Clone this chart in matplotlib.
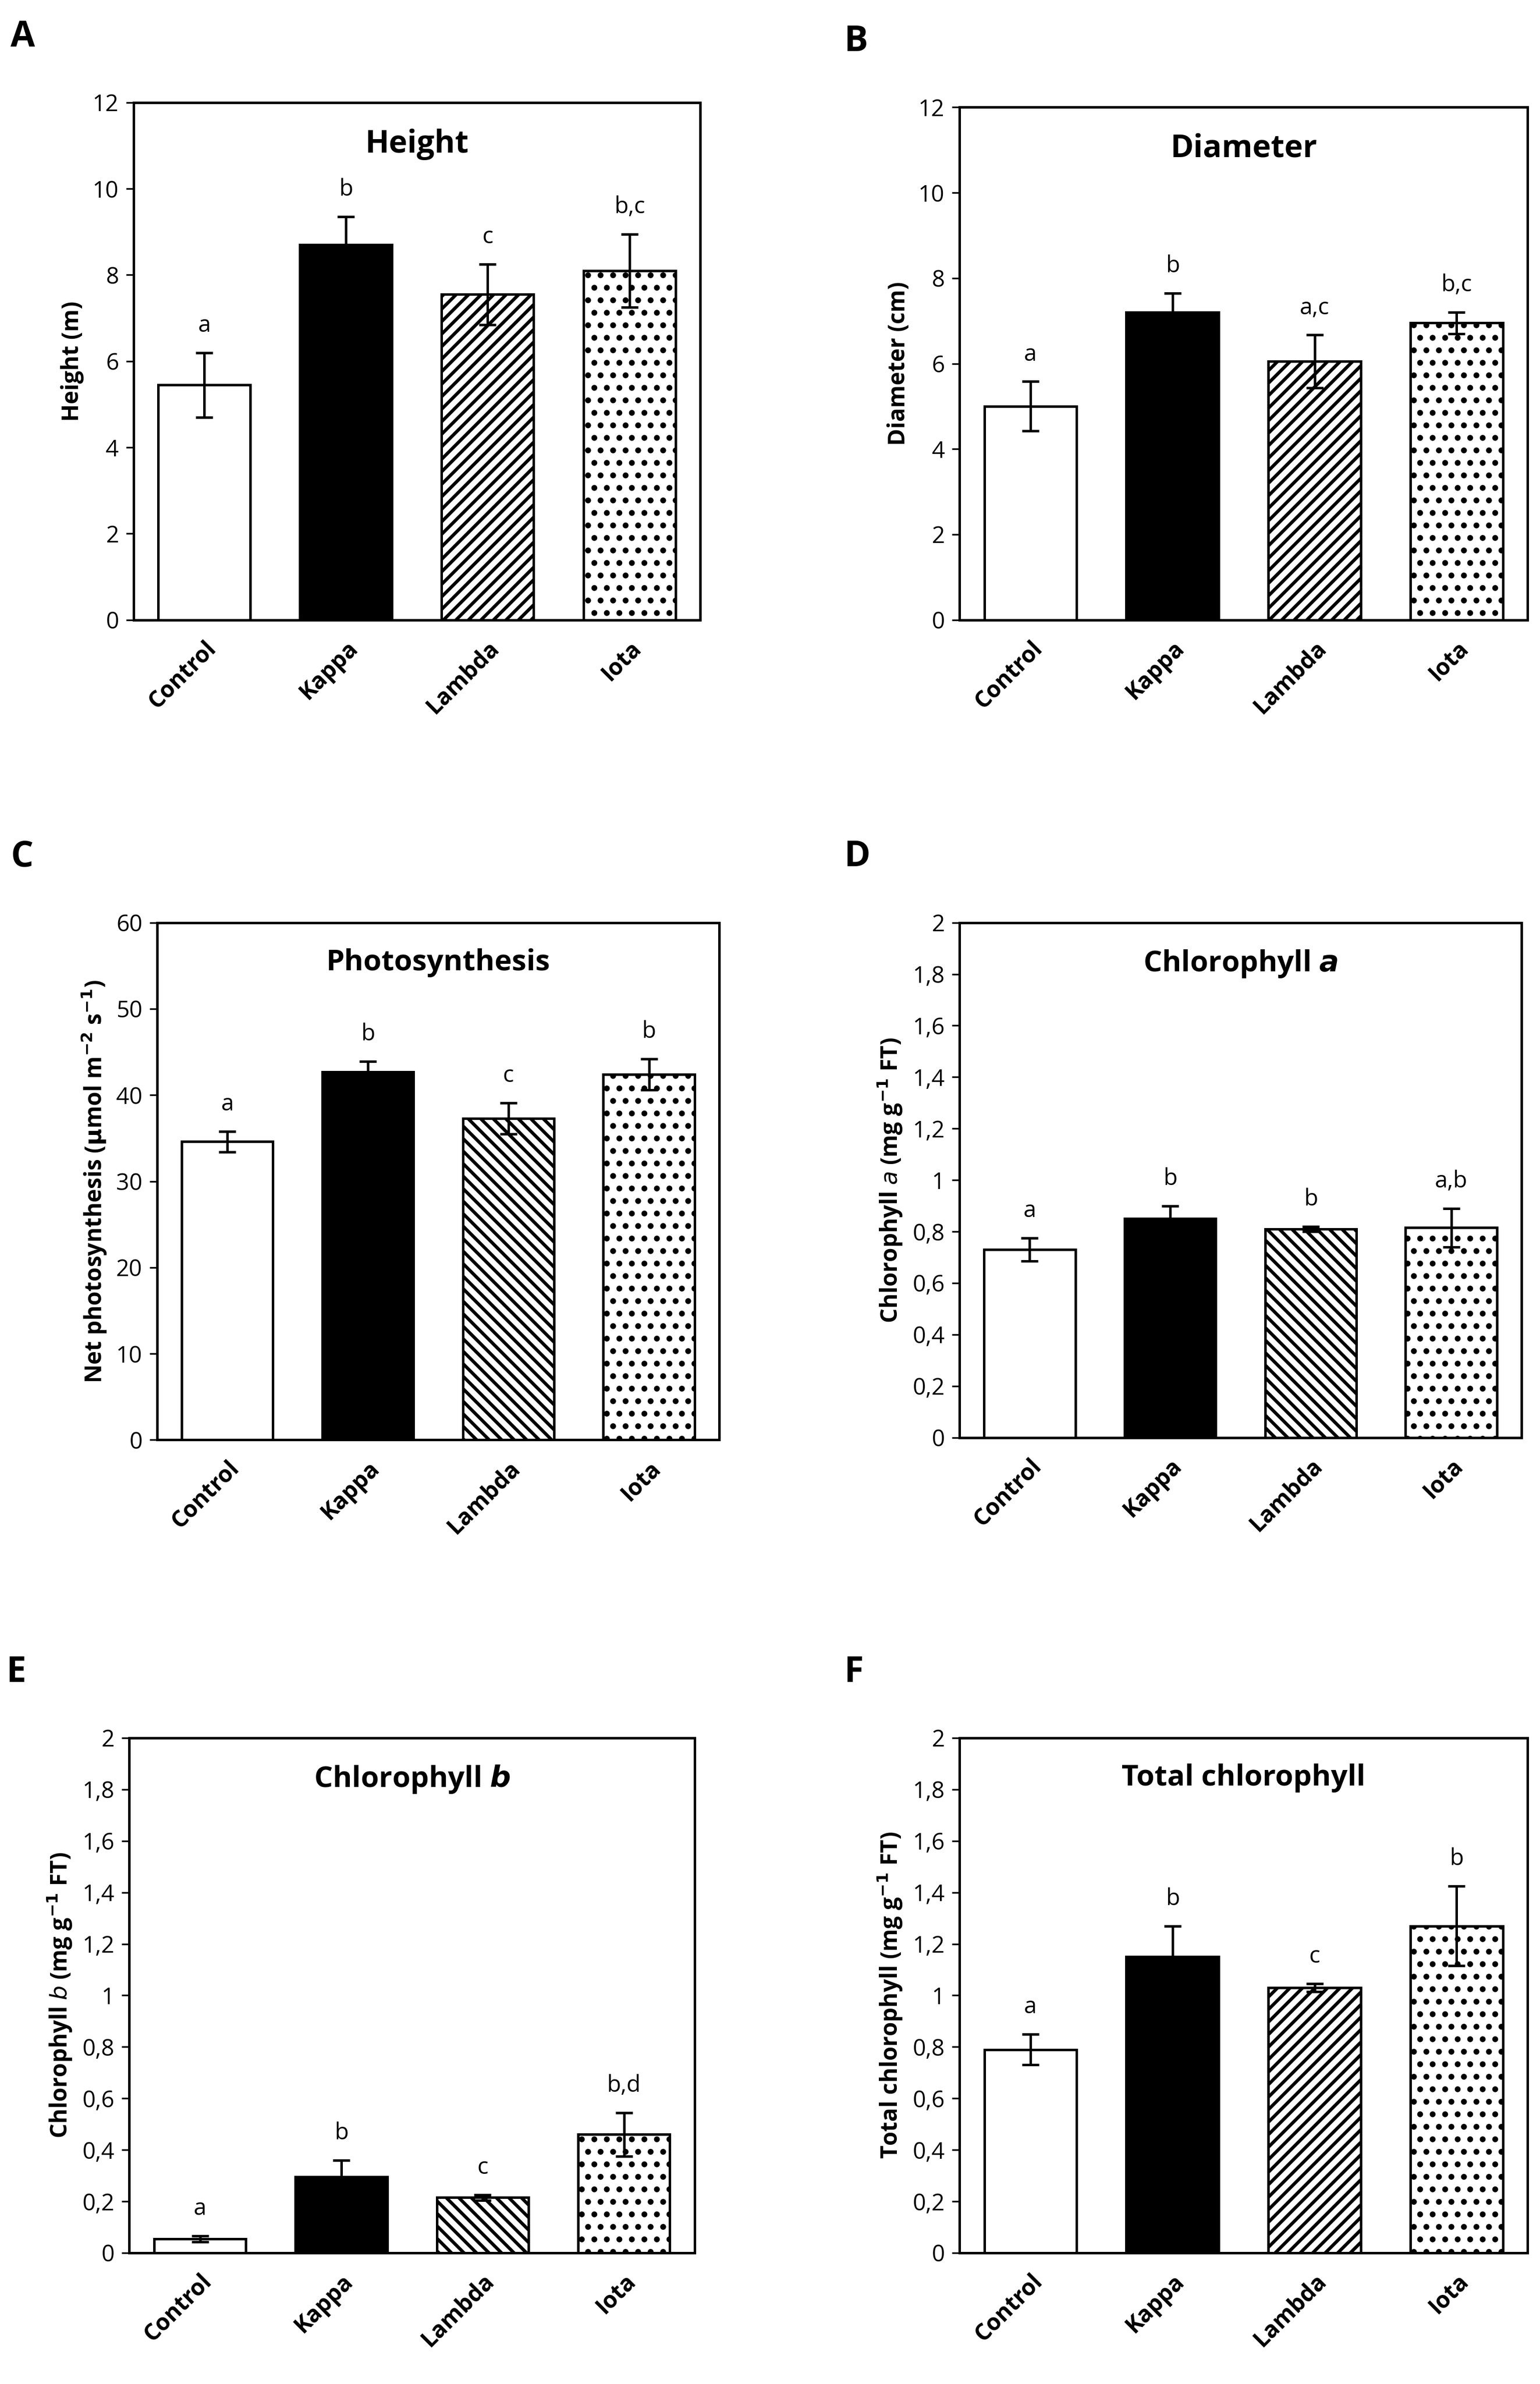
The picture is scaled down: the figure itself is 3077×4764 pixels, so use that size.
import numpy as np
import matplotlib
matplotlib.use('Agg')
import matplotlib.pyplot as plt
from matplotlib.ticker import FuncFormatter

plt.rcParams['font.family'] = ['Open Sans', 'DejaVu Sans']
plt.rcParams['hatch.linewidth'] = 1.6

groups = ['Control', 'Kappa', 'Lambda', 'Iota']

height = [5.45, 8.7, 7.55, 8.1]
height_err = [0.75, 0.65, 0.7, 0.85]
height_sig = ['a', 'b', 'c', 'b,c']

diameter = [5.0, 7.2, 6.05, 6.95]
diameter_err = [0.58, 0.45, 0.62, 0.25]
diameter_sig = ['a', 'b', 'a,c', 'b,c']

photo = [34.6, 42.7, 37.3, 42.4]
photo_err = [1.2, 1.2, 1.8, 1.8]
photo_sig = ['a', 'b', 'c', 'b']

chla = [0.73, 0.85, 0.81, 0.815]
chla_err = [0.045, 0.05, 0.01, 0.075]
chla_sig = ['a', 'b', 'b', 'a,b']

chlb = [0.055, 0.295, 0.215, 0.46]
chlb_err = [0.012, 0.065, 0.01, 0.085]
chlb_sig = ['a', 'b', 'c', 'b,d']

total = [0.79, 1.15, 1.03, 1.27]
total_err = [0.06, 0.12, 0.015, 0.155]
total_sig = ['a', 'b', 'c', 'b']

panels = [
    ('A', [0.0867, 0.740, 0.368, 0.217], height, height_err, height_sig, 'Height', 'Height (m)', 12, 2, '////'),
    ('B', [0.623, 0.740, 0.369, 0.215], diameter, diameter_err, diameter_sig, 'Diameter', 'Diameter (cm)', 12, 2, '////'),
    ('C', [0.102, 0.396, 0.365, 0.217], photo, photo_err, photo_sig, 'Photosynthesis',
     r'Net photosynthesis ($\mathbf{\mu}$mol m$^{\mathbf{-2}}$ s$^{\mathbf{-1}}$)', 60, 10, '\\\\\\\\'),
    ('D', [0.623, 0.397, 0.365, 0.216], chla, chla_err, chla_sig, r'Chlorophyll $\boldsymbol{a}$',
     r'Chlorophyll $\mathit{a}$ (mg g$^{\mathbf{-1}}$ FT)', 2, 0.2, '\\\\\\\\'),
    ('E', [0.084, 0.055, 0.367, 0.216], chlb, chlb_err, chlb_sig, 'Chlorophyll b',
     r'Chlorophyll $\mathit{b}$ (mg g$^{\mathbf{-1}}$ FT)', 2, 0.2, '\\\\\\\\'),
    ('F', [0.623, 0.055, 0.369, 0.216], total, total_err, total_sig, 'Total chlorophyll',
     r'Total chlorophyll (mg g$^{\mathbf{-1}}$ FT)', 2, 0.2, '////'),
]

fig = plt.figure(figsize=(3077 / 300, 4764 / 300), dpi=300)
x = np.arange(len(groups))

for letter, rect, vals, errs, sig, title, ylabel, ymax, step, lhatch in panels:
    ax = fig.add_axes(rect)
    faces = ['white', 'black', 'white', 'white']
    hatches = [None, None, lhatch, '..']
    for i in range(4):
        ax.bar(x[i], vals[i], width=0.65, color=faces[i], edgecolor='black',
               linewidth=1.2, hatch=hatches[i])
    ax.errorbar(x, vals, yerr=errs, fmt='none', ecolor='black', elinewidth=1.2, capsize=4, capthick=1.2)
    for i in range(4):
        ax.text(x[i], vals[i] + errs[i] + ymax * 0.03, sig[i], ha='center', va='bottom', fontsize=11)
    ax.set_xlim(-0.5, 3.5)
    ax.set_ylim(0, ymax)
    ax.set_yticks(np.arange(0, ymax + step / 2, step))
    if step < 1:
        ax.yaxis.set_major_formatter(FuncFormatter(lambda v, p: ('%g' % round(v, 1)).replace('.', ',')))
    ax.set_xticks(x)
    ax.set_xticklabels(groups, rotation=45, ha='right', rotation_mode='anchor', fontweight='bold', fontsize=11)
    ax.tick_params(axis='x', length=0, pad=8)
    ax.tick_params(axis='y', labelsize=11)
    ax.set_ylabel(ylabel, fontweight='bold', fontsize=11)
    if title == 'Chlorophyll b':
        ax.text(0.5, 0.95, r'Chlorophyll $\boldsymbol{b}$', transform=ax.transAxes, ha='center', va='top',
                fontsize=14, fontweight='bold')
    else:
        ax.text(0.5, 0.95, title, transform=ax.transAxes, ha='center', va='top',
                fontsize=15 if letter in 'AB' else 14, fontweight='bold')
    for s in ax.spines.values():
        s.set_linewidth(1.2)
    fig.text(rect[0] - 0.08 if letter in 'AE' else rect[0] - 0.075 if letter != 'C' else rect[0] - 0.095,
             rect[1] + rect[3] + 0.02, letter, fontsize=17, fontweight='bold', va='bottom')

fig.savefig('out.png', dpi=300)
